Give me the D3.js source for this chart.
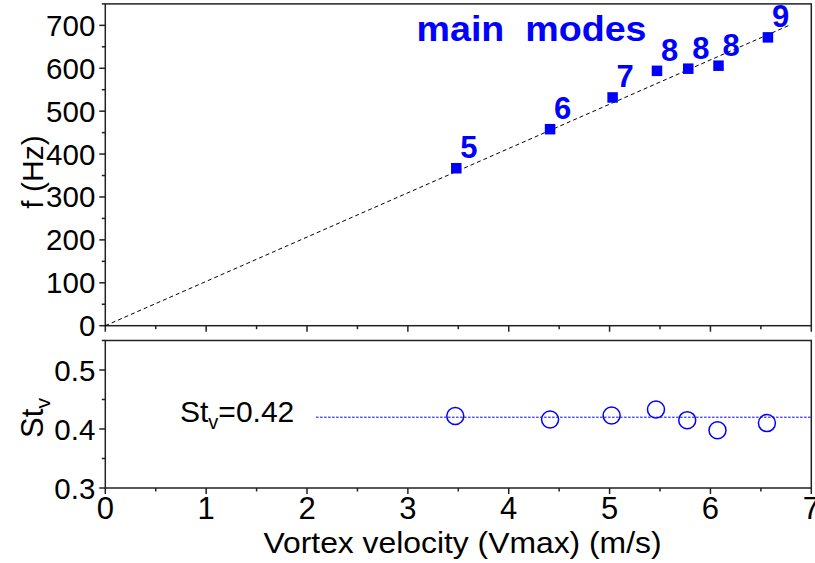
<!DOCTYPE html>
<html>
<head>
<meta charset="utf-8">
<script src="https://cdn.jsdelivr.net/npm/d3@7"></script>
<style>
  html, body { margin: 0; padding: 0; background: #fff; }
  svg { display: block; }
  text { font-family: "Liberation Sans", Arial, sans-serif; }
</style>
</head>
<body>
<svg id="chart" width="815" height="563"></svg>
<script>
// ---- data ----
const modeVelocity = [3.48, 4.41, 5.03, 5.47, 5.78, 6.08, 6.57];
const modeFreq = [367, 458, 532, 594, 599, 606, 672];
const modeLabels = ["5", "6", "7", "8", "8", "8", "9"];
const fitX = [0, 6.78];
const fitF = [0, 700];
const stVelocity = [3.47, 4.41, 5.02, 5.46, 5.77, 6.07, 6.56];
const stValues = [0.422, 0.416, 0.423, 0.433, 0.415, 0.398, 0.410];
const stMean = 0.42;
const stLineStart = 2.09;
const xTicks = [0, 1, 2, 3, 4, 5, 6, 7];
const fTicks = [0, 100, 200, 300, 400, 500, 600, 700];
const stTicks = [0.3, 0.4, 0.5];

const svg = d3.select("#chart");
const blue = "#0000ff";
const axisColor = "#222";

const x = d3.scaleLinear().domain([0, 7]).range([105.3, 811.3]);
const yTop = d3.scaleLinear().domain([0, 750]).range([325.7, 3.9]);
const yBot = d3.scaleLinear().domain([0.3, 0.55]).range([488, 340.5]);

function drawFrame(yScale, yMajor, yMinorStep, yFmt, showXLabels) {
  const [y0, y1] = yScale.range();
  const [x0, x1] = x.range();
  const g = svg.append("g");
  g.append("rect").attr("x", x0).attr("y", y1).attr("width", x1 - x0).attr("height", y0 - y1)
    .attr("fill", "none").attr("stroke", axisColor).attr("stroke-width", 1.5);
  const d = yScale.domain();
  const minor = d3.range(d[0], d[1] + 1e-9, yMinorStep).filter(v => !yMajor.some(m => Math.abs(m - v) < 1e-9));
  g.selectAll(".ymaj").data(yMajor).join("line")
    .attr("x1", x0 - 6).attr("x2", x0).attr("y1", v => yScale(v)).attr("y2", v => yScale(v))
    .attr("stroke", axisColor).attr("stroke-width", 1.5);
  g.selectAll(".ymin").data(minor).join("line")
    .attr("x1", x0 - 3.5).attr("x2", x0).attr("y1", v => yScale(v)).attr("y2", v => yScale(v))
    .attr("stroke", axisColor).attr("stroke-width", 1.5);
  g.selectAll(".ylab").data(yMajor).join("text")
    .attr("x", x0 - 10).attr("y", v => yScale(v) + 10.5)
    .attr("text-anchor", "end").attr("font-size", 29.5).attr("fill", "#000")
    .text(yFmt);
  const xMinor = d3.range(0.5, 7, 1);
  g.selectAll(".xmaj").data(xTicks).join("line")
    .attr("x1", v => x(v)).attr("x2", v => x(v)).attr("y1", y0).attr("y2", y0 + 6)
    .attr("stroke", axisColor).attr("stroke-width", 1.5);
  g.selectAll(".xmin").data(xMinor).join("line")
    .attr("x1", v => x(v)).attr("x2", v => x(v)).attr("y1", y0).attr("y2", y0 + 3.5)
    .attr("stroke", axisColor).attr("stroke-width", 1.5);
  if (showXLabels) {
    g.selectAll(".xlab").data(xTicks).join("text")
      .attr("x", v => x(v)).attr("y", y0 + 31)
      .attr("text-anchor", "middle").attr("font-size", 31).attr("fill", "#000")
      .text(v => v);
  }
}

drawFrame(yTop, fTicks, 50, v => v, false);
drawFrame(yBot, stTicks, 0.05, v => v.toFixed(1), true);

// ---- top panel ----
const fitLine = d3.line().x(d => x(d[0])).y(d => yTop(d[1]));
svg.append("path").datum(d3.zip(fitX, fitF)).attr("d", fitLine)
  .attr("fill", "none").attr("stroke", "#000").attr("stroke-width", 1).attr("stroke-dasharray", "4,3");

const sq = 10.5;
svg.selectAll(".sq").data(d3.zip(modeVelocity, modeFreq)).join("rect")
  .attr("x", d => x(d[0]) - sq / 2).attr("y", d => yTop(d[1]) - sq / 2)
  .attr("width", sq).attr("height", sq).attr("fill", blue);

svg.selectAll(".mlab").data(d3.zip(modeVelocity, modeFreq, modeLabels)).join("text")
  .attr("x", d => x(d[0]) + 4).attr("y", d => yTop(d[1]) - 10)
  .attr("font-size", 31).attr("font-weight", "bold").attr("fill", blue)
  .text(d => d[2]);

svg.append("text").attr("x", 416.5).attr("y", 40.5)
  .attr("font-size", 35).attr("font-weight", "bold").attr("fill", blue)
  .attr("textLength", 230).attr("lengthAdjust", "spacingAndGlyphs")
  .style("white-space", "pre").text("main  modes");

// ---- bottom panel ----
svg.append("line")
  .attr("x1", x(stLineStart)).attr("x2", x(7)).attr("y1", yBot(stMean)).attr("y2", yBot(stMean))
  .attr("stroke", blue).attr("stroke-width", 1).attr("stroke-dasharray", "2.5,1.5");

svg.selectAll(".circ").data(d3.zip(stVelocity, stValues)).join("circle")
  .attr("cx", d => x(d[0])).attr("cy", d => yBot(d[1])).attr("r", 8.5)
  .attr("fill", "none").attr("stroke", blue).attr("stroke-width", 1.5);

const stLab = svg.append("text").attr("x", 180).attr("y", 422).attr("font-size", 30).attr("fill", "#000");
stLab.append("tspan").text("St");
stLab.append("tspan").attr("font-size", 20).attr("dy", 7).text("v");
stLab.append("tspan").attr("dy", -7).text("=0.42");

// ---- axis titles ----
svg.append("text").attr("x", 462.5).attr("y", 552.5)
  .attr("text-anchor", "middle").attr("font-size", 30).attr("fill", "#000")
  .attr("textLength", 398).attr("lengthAdjust", "spacingAndGlyphs")
  .text("Vortex velocity (Vmax) (m/s)");

svg.append("text").attr("transform", "translate(43,172) rotate(-90)")
  .attr("text-anchor", "middle").attr("font-size", 30).attr("fill", "#000")
  .text("f (Hz)");

const stTitle = svg.append("text").attr("transform", "translate(43,418) rotate(-90)")
  .attr("text-anchor", "middle").attr("font-size", 31).attr("fill", "#000");
stTitle.append("tspan").text("St");
stTitle.append("tspan").attr("font-size", 21).attr("dy", 7).text("v");
</script>
</body>
</html>
